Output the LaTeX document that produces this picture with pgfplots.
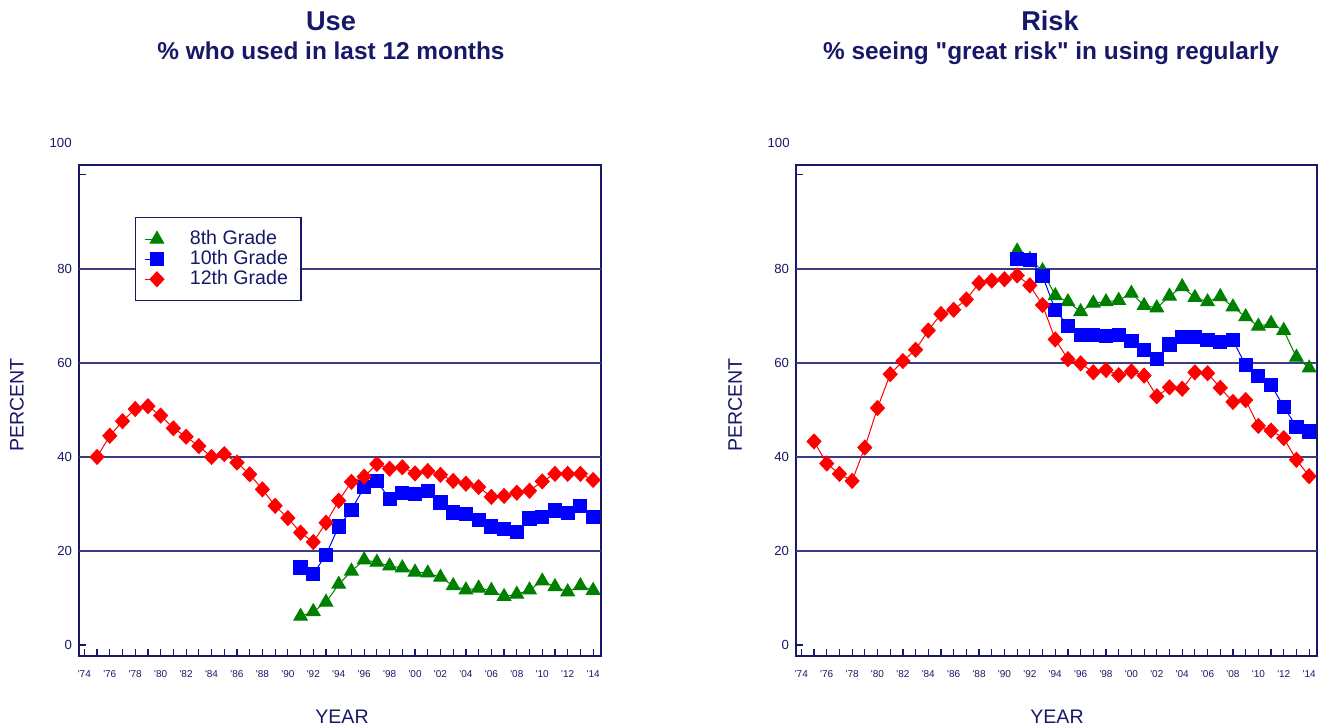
\documentclass[border=0pt]{standalone}
\usepackage{pgfplots}
\pgfplotsset{compat=1.18}
\usepackage{fontspec}
\setmainfont{Liberation Sans}
\definecolor{navy}{RGB}{24,24,104}
\definecolor{gridc}{RGB}{60,60,130}
\definecolor{gG}{RGB}{0,128,0}
\definecolor{bB}{RGB}{0,0,255}
\definecolor{rR}{RGB}{255,0,0}

\pgfplotsset{
  panel/.style={
    scale only axis,
    width=261pt, height=245.5pt,
    anchor=south west,
    xmin=1973.58, xmax=2014.62,
    ymin=-2.34, ymax=102.1,
    /pgf/number format/assume math mode=true,
    axis line style={navy, line width=0.75pt},
    xtick={1974,1976,...,2014},
    xticklabels={\textquotesingle 74,\textquotesingle 76,\textquotesingle 78,\textquotesingle 80,\textquotesingle 82,\textquotesingle 84,\textquotesingle 86,\textquotesingle 88,\textquotesingle 90,\textquotesingle 92,\textquotesingle 94,\textquotesingle 96,\textquotesingle 98,\textquotesingle 00,\textquotesingle 02,\textquotesingle 04,\textquotesingle 06,\textquotesingle 08,\textquotesingle 10,\textquotesingle 12,\textquotesingle 14},
    minor xtick={1975,1977,...,2013},
    xtick pos=bottom, ytick pos=left,
    tick align=inside,
    major tick length=3.6pt, minor tick length=3.6pt,
    tick style={navy, line width=0.6pt},
    xticklabel style={font=\fontsize{5}{6}\selectfont, text=navy, anchor=north, text height=4pt, text depth=0.5pt, yshift=-3pt},
    ytick={0,100}, yticklabels={0,{}},
    yticklabel style={font=\fontsize{6.6}{8}\selectfont, text=navy},
    extra y ticks={20,40,60,80},
    extra y tick style={grid=major, major tick length=0pt},
    grid style={gridc, line width=0.75pt},
    clip=false,
  },
  g8/.style={gG, line width=0.5pt, mark=triangle*, mark size=3.9pt, mark options={fill=gG, draw=gG}},
  g10/.style={bB, line width=0.5pt, mark=square*, mark size=3.3pt, mark options={fill=bB, draw=bB}},
  g12/.style={rR, line width=0.5pt, mark=diamond*, mark size=3.7pt, mark options={fill=rR, draw=rR, xscale=1.25}},
}

\begin{document}
\begin{tikzpicture}
\useasboundingbox (0pt,0pt) rectangle (662pt,364pt);

% ---------- Left: Use ----------
\begin{axis}[panel, at={(39.5pt,36pt)},
  legend style={at={(0.107,0.894)}, anchor=north west, draw=navy, line width=0.6pt, fill=white,
    font=\fontsize{9.8}{10}\selectfont, text=navy, row sep=-2.6pt, inner xsep=4.5pt, inner ysep=4.5pt,
    /tikz/every odd column/.append style={column sep=11pt}},
  legend cell align=left,
  legend image code/.code={\draw[mark repeat=2,mark phase=2,#1] plot coordinates {(0pt,0pt) (6pt,0pt)};},
]
\addplot[g8] coordinates {
(1991,6.1)(1992,7.1)(1993,9.1)(1994,12.9)(1995,15.7)(1996,18.1)(1997,17.6)(1998,16.8)(1999,16.4)(2000,15.5)
(2001,15.3)(2002,14.4)(2003,12.6)(2004,11.7)(2005,12.1)(2006,11.6)(2007,10.3)(2008,10.8)(2009,11.7)(2010,13.6)
(2011,12.4)(2012,11.3)(2013,12.6)(2014,11.6)};
\addlegendentry{8th Grade}
\addplot[g10] coordinates {
(1991,16.5)(1992,15.1)(1993,19.2)(1994,25.2)(1995,28.7)(1996,33.6)(1997,34.8)(1998,31.1)(1999,32.3)(2000,32.2)
(2001,32.7)(2002,30.3)(2003,28.2)(2004,27.8)(2005,26.6)(2006,25.2)(2007,24.6)(2008,24.0)(2009,26.9)(2010,27.3)
(2011,28.6)(2012,28.0)(2013,29.6)(2014,27.3)};
\addlegendentry{10th Grade}
\addplot[g12] coordinates {
(1975,40.0)(1976,44.5)(1977,47.6)(1978,50.2)(1979,50.8)(1980,48.8)(1981,46.1)(1982,44.3)(1983,42.3)(1984,40.0)
(1985,40.6)(1986,38.8)(1987,36.3)(1988,33.1)(1989,29.6)(1990,27.0)(1991,23.9)(1992,21.9)(1993,26.0)(1994,30.7)
(1995,34.7)(1996,35.8)(1997,38.5)(1998,37.5)(1999,37.8)(2000,36.5)(2001,37.0)(2002,36.2)(2003,34.9)(2004,34.3)
(2005,33.6)(2006,31.5)(2007,31.7)(2008,32.4)(2009,32.8)(2010,34.8)(2011,36.4)(2012,36.4)(2013,36.4)(2014,35.1)};
\addlegendentry{12th Grade}
\end{axis}

% ---------- Right: Risk ----------
\begin{axis}[panel, at={(398pt,36pt)}, width=260.5pt]
\addplot[g8] coordinates {
(1991,83.8)(1992,82.0)(1993,79.6)(1994,74.3)(1995,73.0)(1996,70.9)(1997,72.7)(1998,73.0)(1999,73.3)(2000,74.8)
(2001,72.2)(2002,71.7)(2003,74.2)(2004,76.2)(2005,73.9)(2006,73.0)(2007,74.1)(2008,71.9)(2009,69.8)(2010,67.8)
(2011,68.4)(2012,66.9)(2013,61.2)(2014,58.9)};
\addplot[g10] coordinates {
(1991,82.1)(1992,81.9)(1993,78.5)(1994,71.3)(1995,67.9)(1996,65.9)(1997,65.9)(1998,65.8)(1999,65.9)(2000,64.7)
(2001,62.8)(2002,60.8)(2003,63.9)(2004,65.5)(2005,65.5)(2006,64.9)(2007,64.5)(2008,64.8)(2009,59.5)(2010,57.2)
(2011,55.3)(2012,50.7)(2013,46.4)(2014,45.4)};
\addplot[g12] coordinates {
(1975,43.3)(1976,38.6)(1977,36.4)(1978,34.9)(1979,42.0)(1980,50.4)(1981,57.6)(1982,60.4)(1983,62.8)(1984,66.9)
(1985,70.4)(1986,71.3)(1987,73.5)(1988,77.0)(1989,77.5)(1990,77.8)(1991,78.6)(1992,76.5)(1993,72.3)(1994,65.0)
(1995,60.8)(1996,59.9)(1997,58.0)(1998,58.5)(1999,57.4)(2000,58.2)(2001,57.3)(2002,52.9)(2003,54.8)(2004,54.5)
(2005,58.0)(2006,57.8)(2007,54.7)(2008,51.7)(2009,52.1)(2010,46.6)(2011,45.6)(2012,44.0)(2013,39.4)(2014,35.9)};
\end{axis}

% ---------- titles and labels ----------
\node[anchor=base, text=navy, font=\bfseries\fontsize{13.6}{15}\selectfont] at (165.5pt,348.6pt) {Use};
\node[anchor=base, text=navy, font=\bfseries\fontsize{12.2}{14}\selectfont] at (165.5pt,334.4pt) {\% who used in last 12 months};
\node[anchor=base, text=navy, font=\bfseries\fontsize{13.6}{15}\selectfont] at (525pt,348.6pt) {Risk};
\node[anchor=base, text=navy, font=\bfseries\fontsize{12.2}{14}\selectfont] at (525.5pt,334.4pt) {\% seeing \textquotedbl great risk\textquotedbl{} in using regularly};

\node[rotate=90, text=navy, font=\fontsize{9.8}{11}\selectfont] at (8.5pt,161.5pt) {PERCENT};
\node[rotate=90, text=navy, font=\fontsize{9.8}{11}\selectfont] at (367.5pt,161.5pt) {PERCENT};
\node[anchor=base, text=navy, font=\fontsize{9.8}{11}\selectfont] at (171pt,2pt) {YEAR};
\node[anchor=base, text=navy, font=\fontsize{9.8}{11}\selectfont] at (528.5pt,2pt) {YEAR};

\node[anchor=east, inner sep=0pt, text=navy, font=\fontsize{6.6}{8}\selectfont] at (36pt,292.5pt) {100};
\node[anchor=east, inner sep=0pt, text=navy, font=\fontsize{6.6}{8}\selectfont] at (395pt,292.5pt) {100};
\end{tikzpicture}
\end{document}
